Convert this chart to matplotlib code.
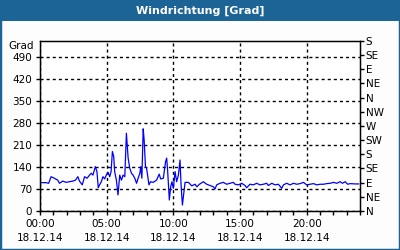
import numpy as np
import matplotlib
matplotlib.use("Agg")
import matplotlib.pyplot as plt
from matplotlib.patches import Rectangle

# Stunden seit 00:00 am 18.12.14
zeit = [0.0, 0.45, 0.65, 0.83, 1.08, 1.33, 1.46, 1.71, 1.96, 2.21, 2.46, 2.66, 2.84, 2.96,
        3.17, 3.34, 3.52, 3.72, 3.84, 3.97, 4.15, 4.27, 4.37, 4.47, 4.60, 4.72, 4.85, 4.97,
        5.10, 5.23, 5.33, 5.43, 5.53, 5.60, 5.73, 5.85, 5.98, 6.11, 6.23, 6.36, 6.48, 6.61,
        6.73, 6.86, 6.98, 7.11, 7.24, 7.36, 7.49, 7.56, 7.64, 7.74, 7.81, 7.91, 7.99, 8.07,
        8.17, 8.29, 8.49, 8.74, 8.94, 9.05, 9.25, 9.42, 9.50, 9.57, 9.70, 9.80, 9.90, 10.00,
        10.13, 10.25, 10.38, 10.50, 10.58, 10.68, 10.80, 10.88, 11.13, 11.38, 11.63, 11.76,
        11.96, 12.25, 12.5, 12.75, 13.0, 13.13, 13.25, 13.5, 13.75, 14.0, 14.25, 14.5, 14.63,
        14.88, 15.13, 15.38, 15.5, 15.75, 16.0, 16.25, 16.5, 16.75, 17.0, 17.13, 17.38, 17.63,
        17.88, 18.13, 18.26, 18.5, 18.76, 19.01, 19.26, 19.51, 19.76, 20.0, 20.26, 20.51,
        20.76, 21.01, 21.26, 21.51, 21.76, 22.01, 22.26, 22.51, 22.68, 22.88, 23.08, 23.26,
        23.63, 23.9]
richtung = [90, 90, 88, 109, 104, 98, 88, 95, 91, 93, 95, 98, 109, 95,
            83, 109, 104, 114, 120, 114, 141, 125, 74, 83, 93, 109, 102, 114,
            123, 109, 125, 189, 173, 125, 98, 51, 114, 98, 114, 109, 247, 168,
            136, 120, 114, 104, 88, 104, 120, 141, 104, 261, 226, 141, 136, 114,
            83, 93, 91, 98, 117, 102, 104, 157, 168, 130, 35, 77, 93, 72,
            125, 93, 114, 162, 83, 19, 62, 91, 91, 80, 85, 77,
            85, 93, 85, 81, 77, 70, 83, 88, 91, 85, 88, 91, 85,
            83, 88, 81, 74, 85, 83, 88, 83, 85, 88, 81, 88, 83,
            85, 72, 83, 88, 83, 88, 85, 87, 91, 83, 85, 87,
            83, 85, 85, 87, 88, 91, 88, 93, 88, 93, 85, 87,
            86, 86]

yticks = [0, 70, 140, 210, 280, 350, 420, 490]
himmel = ["N", "NE", "E", "SE", "S", "SW", "W", "NW", "N", "NE", "E", "SE", "S"]
xticks = [0, 5, 10, 15, 20]
xlabels = ["00:00\n18.12.14", "05:00\n18.12.14", "10:00\n18.12.14",
           "15:00\n18.12.14", "20:00\n18.12.14"]

plt.rcParams['font.family'] = 'DejaVu Sans'
plt.rcParams['font.size'] = 7.5

fig = plt.figure(figsize=(4, 2.5), dpi=100, facecolor='#fcfdfc')
blau = '#1c6496'
# Rahmen und Titelbalken
fig.patches.append(Rectangle((0, 0), 1, 1, transform=fig.transFigure, fill=False,
                             edgecolor=blau, linewidth=2.5))
fig.patches.append(Rectangle((0, 1 - 21 / 250), 1, 21 / 250, transform=fig.transFigure,
                             facecolor=blau, edgecolor='none'))
fig.text(0.5, 1 - 10.5 / 250, 'Windrichtung [Grad]', color='white', fontweight='bold',
         ha='center', va='center', fontsize=8)

ax = fig.add_axes([0.1, 39 / 250, 0.8, 170 / 250])
ax.set_facecolor('white')
ax.plot(zeit, richtung, color='#0000ff', linewidth=0.9)
ax.set_xlim(0, 24)
ax.set_ylim(0, 540)
ax.set_yticks(yticks)
ax.set_xticks(xticks)
ax.set_xticklabels(xlabels, linespacing=1.6)
ax.set_xticks(range(0, 25), minor=True)
ax.grid(True, color='black', linestyle=(0, (2.2, 2.2)), linewidth=1)
ax.tick_params(direction='out', length=3, width=1, colors='black', pad=2.5)
ax.tick_params(axis='x', which='minor', length=3, width=1)
for s in ax.spines.values():
    s.set_linewidth(1)
ax.text(-0.02, 1.0, 'Grad', transform=ax.transAxes, ha='right', va='top')

ax2 = ax.twinx()
ax2.set_ylim(0, 540)
ax2.set_yticks(np.arange(0, 541, 45))
ax2.set_yticklabels(himmel)
ax2.tick_params(direction='out', length=3, width=1, pad=1)

plt.savefig('out.png', dpi=100, facecolor=fig.get_facecolor())
